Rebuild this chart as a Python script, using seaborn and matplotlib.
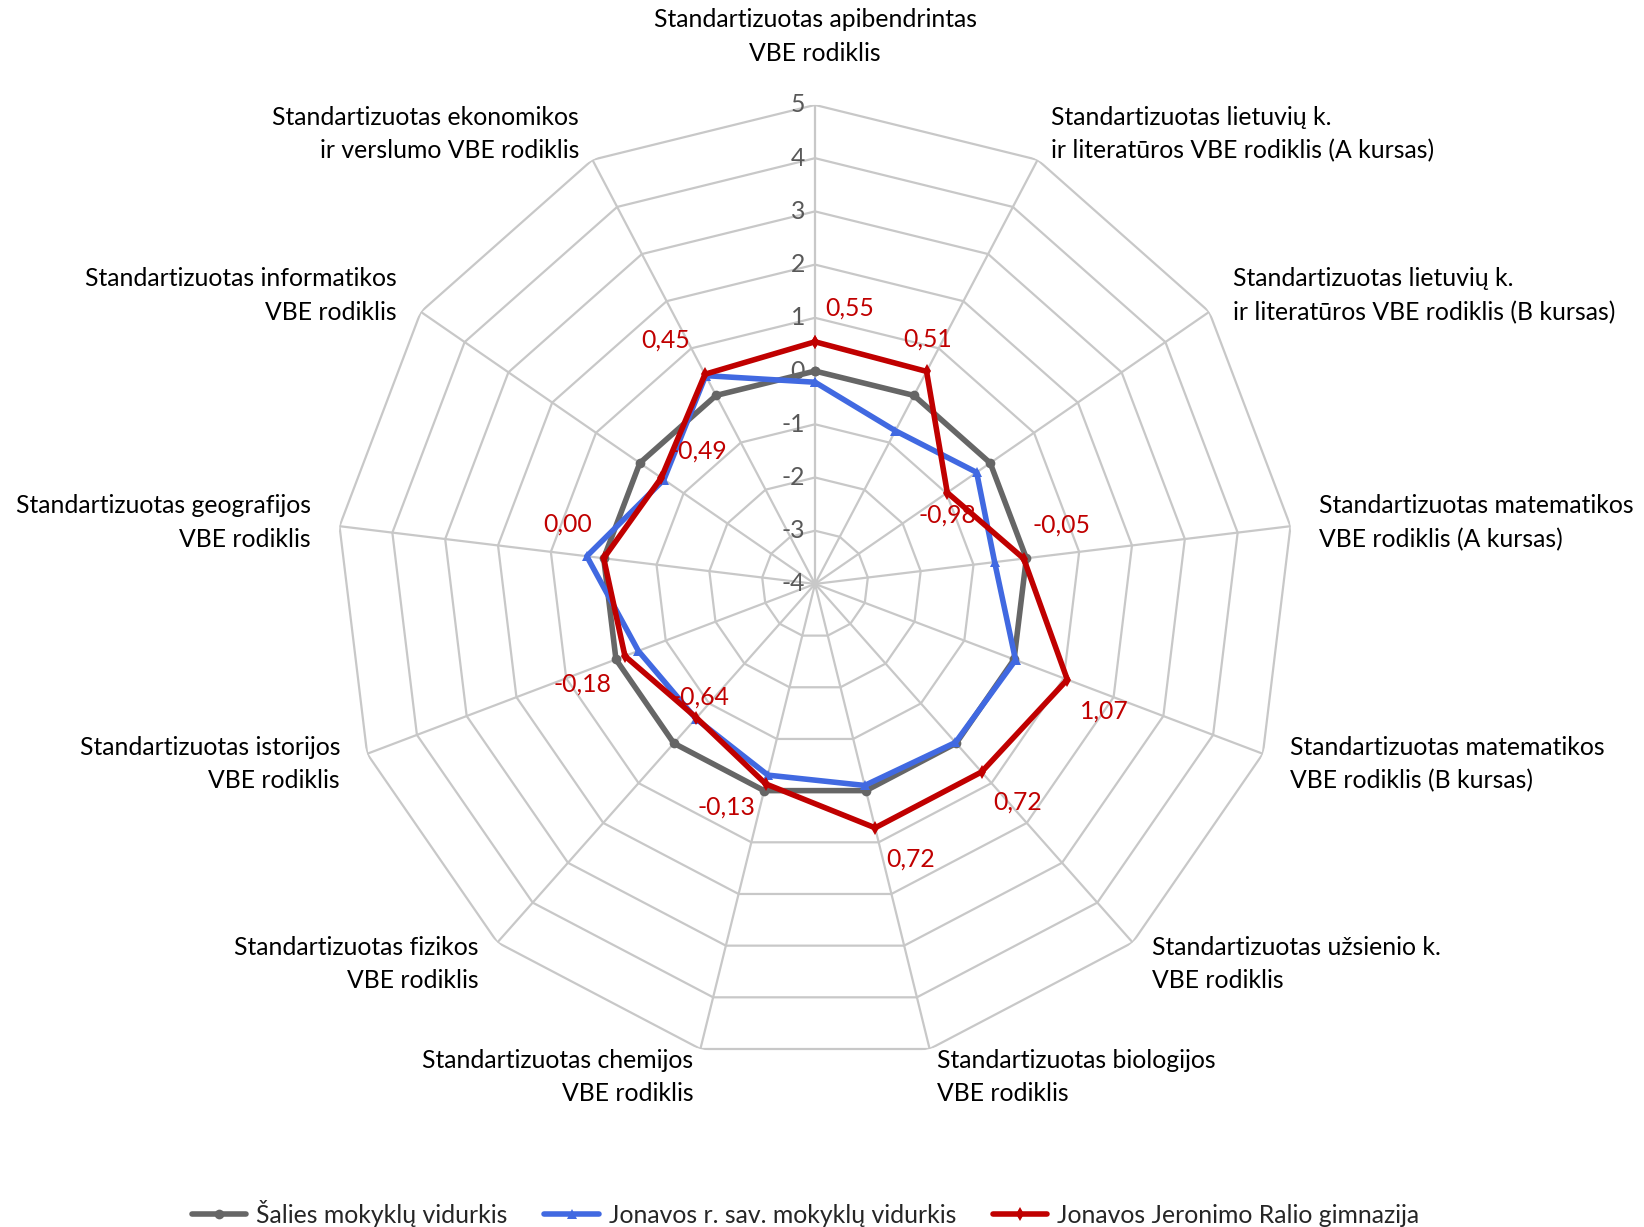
import numpy as np
import pandas as pd
import matplotlib
matplotlib.use('Agg')
import matplotlib.pyplot as plt
import seaborn as sns

# Categories (clockwise from the top)
categories = [
    'Standartizuotas apibendrintas\nVBE rodiklis',
    'Standartizuotas lietuvių k.\nir literatūros VBE rodiklis (A kursas)',
    'Standartizuotas lietuvių k.\nir literatūros VBE rodiklis (B kursas)',
    'Standartizuotas matematikos\nVBE rodiklis (A kursas)',
    'Standartizuotas matematikos\nVBE rodiklis (B kursas)',
    'Standartizuotas užsienio k.\nVBE rodiklis',
    'Standartizuotas biologijos\nVBE rodiklis',
    'Standartizuotas chemijos\nVBE rodiklis',
    'Standartizuotas fizikos\nVBE rodiklis',
    'Standartizuotas istorijos\nVBE rodiklis',
    'Standartizuotas geografijos\nVBE rodiklis',
    'Standartizuotas informatikos\nVBE rodiklis',
    'Standartizuotas ekonomikos\nir verslumo VBE rodiklis',
]

series_names = ['Šalies mokyklų vidurkis',
                'Jonavos r. sav. mokyklų vidurkis',
                'Jonavos Jeronimo Ralio gimnazija']
salies = [0.00, 0.00, 0.00, 0.00, 0.00, 0.00, 0.00, 0.00, 0.00, 0.00, 0.00, 0.00, 0.00]
jonavos_sav = [-0.21, -0.75, -0.31, -0.60, 0.03, -0.02, -0.10, -0.30, -0.62, -0.45, 0.32, -0.55, 0.42]
gimnazija = [0.55, 0.51, -0.98, -0.05, 1.07, 0.72, 0.72, -0.13, -0.64, -0.18, 0.00, -0.49, 0.45]

ring_ticks = [5, 4, 3, 2, 1, 0, -1, -2, -3, -4]

colors = ['#666666', '#4169E1', '#C00000']
markers = ['o', '^', 'd']

n = len(categories)
angles = np.arange(n) * 2 * np.pi / n
closed = np.append(angles, 2 * np.pi)

rows = []
for name, vals in zip(series_names, [salies, jonavos_sav, gimnazija]):
    vals_c = list(vals) + [vals[0]]
    for a, v in zip(closed, vals_c):
        rows.append({'theta': a, 'value': v, 'series': name})
df = pd.DataFrame(rows)

sns.set_theme(style='white')
plt.rcParams['font.family'] = ['Lato', 'DejaVu Sans']
fs = 17.8

fig = plt.figure(figsize=(16.44, 12.27), dpi=100)
ax = fig.add_axes([0.2044, 0.1337, 0.5827, 0.7808], projection='polar')
ax.set_theta_offset(np.pi / 2)
ax.set_theta_direction(-1)
ax.set_ylim(-4, 5)
ax.grid(False)
ax.spines['polar'].set_visible(False)
ax.set_xticks([])
ax.set_yticks([])
ax.patch.set_visible(False)

grid_color = '#C8C8C8'
# polygon rings
for r in ring_ticks[:-1]:
    ax.plot(closed, [r] * len(closed), color=grid_color, lw=1.6, zorder=1)
# spokes
for a in angles:
    ax.plot([a, a], [-4, 5], color=grid_color, lw=1.6, zorder=1)

# ring labels along top spoke
for r in ring_ticks:
    ax.annotate(f'{r}', xy=(0, r), xytext=(-10, 0), textcoords='offset pixels',
                ha='right', va='center', fontsize=fs, color='#595959',
                annotation_clip=False)

sns.lineplot(data=df, x='theta', y='value', hue='series', style='series',
             hue_order=series_names, style_order=series_names,
             palette=colors, markers=markers, dashes=False, sort=False,
             estimator=None, lw=4.0, markersize=7, markeredgewidth=0,
             ax=ax, zorder=3)

# category labels
for k, (a, lab) in enumerate(zip(angles, categories)):
    scr = np.pi / 2 - a
    c, s = np.cos(scr), np.sin(scr)
    if k == 0:
        ax.annotate(lab, xy=(a, 5), xytext=(0, 40), textcoords='offset pixels',
                    ha='center', va='bottom', fontsize=fs, linespacing=1.55,
                    color='black', annotation_clip=False)
        continue
    ha = 'left' if c > 0 else 'right'
    d = 29
    ax.annotate(lab, xy=(a, 5), xytext=(d * c, d * s), textcoords='offset pixels',
                ha=ha, va='center', fontsize=fs, linespacing=1.55,
                multialignment=ha, color='black', annotation_clip=False)

# data labels for the school series
value_label_offsets = [(35, 34), (1, 32), (0, -22), (38, 34), (37, -31), (36, -30),
                       (35, -31), (-39, -23), (4, 21), (-42, -28), (-36, 34), (37, 27),
                       (-39, 34)]
for a, v, off in zip(angles, gimnazija, value_label_offsets):
    ax.annotate(f'{v:.2f}'.replace('.', ','), xy=(a, v), xytext=off,
                textcoords='offset pixels', ha='center', va='center',
                fontsize=fs, color='#C00000', annotation_clip=False, zorder=4)

ax.set_xlabel('')
ax.set_ylabel('')
sns.move_legend(ax, 'lower center', bbox_to_anchor=(0.49, -0.018),
                bbox_transform=fig.transFigure, ncol=3, frameon=False,
                title=None, fontsize=fs, handlelength=2.2, columnspacing=1.5,
                handletextpad=0.4)

fig.savefig('out.png', dpi=100)
